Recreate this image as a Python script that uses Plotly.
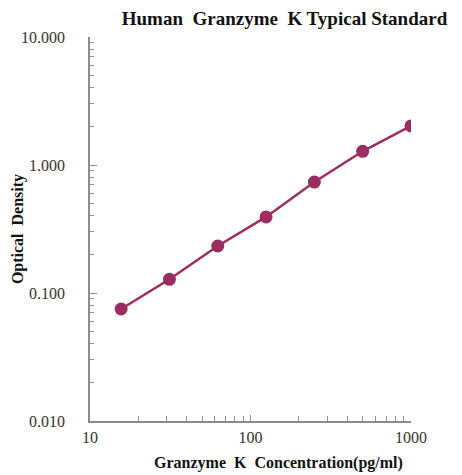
import plotly.graph_objects as go

concentration = [15.625, 31.25, 62.5, 125, 250, 500, 1000]
optical_density = [0.075, 0.128, 0.233, 0.393, 0.736, 1.28, 2.02]

y_tickvals = [0.01, 0.1, 1, 10]
y_ticktext = ["0.010", "0.100", "1.000", "10.000"]
x_tickvals = [10, 100, 1000]
x_ticktext = ["10", "100", "1000"]

color = "#9B2D5F"
axis_color = "#8c8c8c"
serif = "Liberation Serif, Times New Roman, serif"

fig = go.Figure()
fig.add_trace(go.Scatter(
    x=concentration, y=optical_density, mode="lines+markers",
    line=dict(color=color, width=2.5),
    marker=dict(color=color, size=13),
    showlegend=False,
))

fig.update_layout(
    width=462, height=475,
    margin=dict(l=90, r=51, t=37, b=54),
    paper_bgcolor="white", plot_bgcolor="white",
    font=dict(family=serif, color="#222", size=16),
    title=dict(text="<b>Human\u00a0\u00a0Granzyme\u00a0\u00a0K Typical Standard</b>",
               x=0.968, xanchor="right", y=0.962, yanchor="middle",
               font=dict(family=serif, size=19, color="#111")),
    annotations=[
        dict(text="<b>Granzyme\u00a0\u00a0K\u00a0\u00a0Concentration(pg/ml)</b>",
             xref="paper", yref="paper", x=0.587, y=-0.109,
             xanchor="center", yanchor="middle", showarrow=False,
             font=dict(family=serif, size=16, color="#111")),
        dict(text="<b>Optical\u00a0\u00a0Density</b>",
             xref="paper", yref="paper", x=-0.224, y=0.5, textangle=-90,
             xanchor="center", yanchor="middle", showarrow=False,
             font=dict(family=serif, size=16, color="#111")),
    ],
)

fig.update_xaxes(
    type="log", range=[1, 3], automargin=False,
    tickvals=x_tickvals, ticktext=x_ticktext,
    showline=True, linecolor=axis_color, linewidth=1.5,
    ticks="inside", ticklen=6, tickcolor=axis_color, tickwidth=1,
    showgrid=False, zeroline=False,
    ticklabelstandoff=1,
    tickfont=dict(family=serif, size=16, color="#333"),
    minor=dict(ticks="inside", ticklen=5, tickcolor=axis_color, dtick="D1", showgrid=False),
)
fig.update_yaxes(
    type="log", range=[-2, 1], automargin=False,
    tickvals=y_tickvals, ticktext=y_ticktext,
    showline=True, linecolor=axis_color, linewidth=1.5,
    ticks="inside", ticklen=7, tickcolor=axis_color, tickwidth=1,
    showgrid=False, zeroline=False,
    ticklabelstandoff=20,
    tickfont=dict(family=serif, size=16, color="#333"),
    minor=dict(ticks="inside", ticklen=4, tickcolor=axis_color, dtick="D1", showgrid=False),
)

fig.write_html("out.html", config={"displayModeBar": False},
               post_script="document.body.style.margin='0';")
